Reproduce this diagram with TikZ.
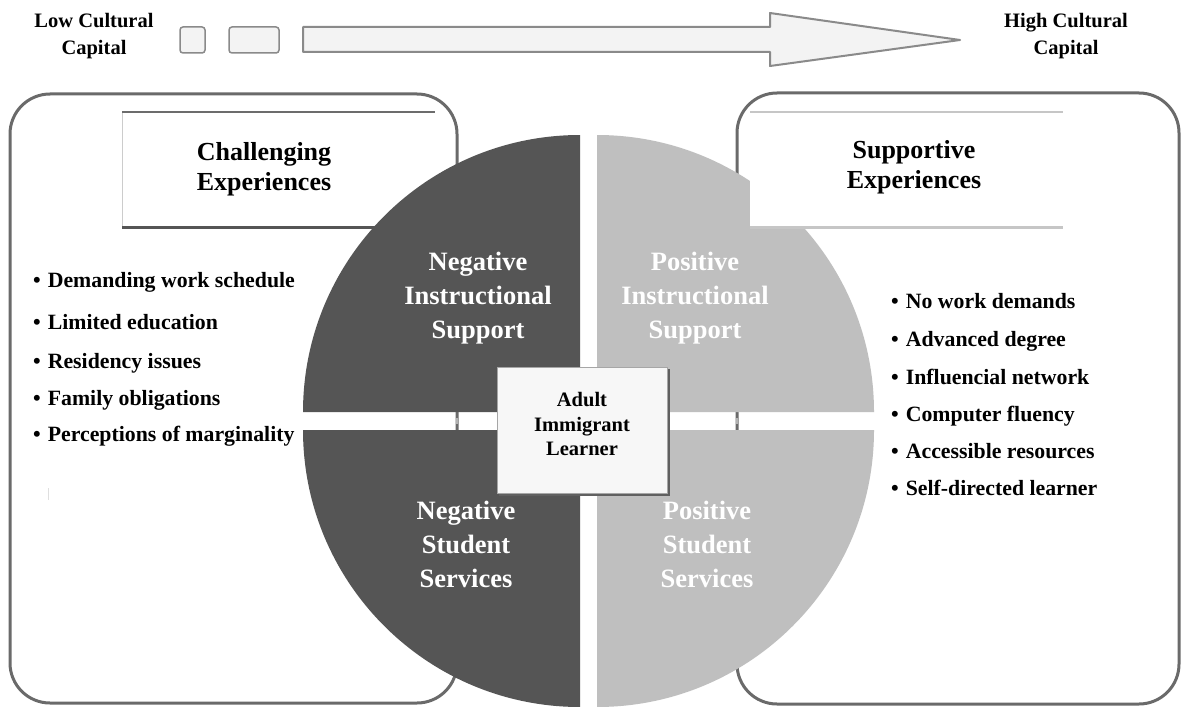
\documentclass[tikz,border=0pt]{standalone}
\usepackage{fontspec}
\setmainfont{Liberation Serif}
\definecolor{boxgray}{HTML}{6A6A6A}
\definecolor{darkq}{HTML}{555555}
\definecolor{lightq}{HTML}{BFBFBF}
\definecolor{arrowfill}{HTML}{F3F3F3}
\definecolor{arrowline}{HTML}{8A8A8A}
\begin{document}
\begin{tikzpicture}[x=1pt,y=-1pt,
  outer/.style={draw=boxgray, line width=3pt, rounded corners=40pt, fill=white},
  smallbox/.style={draw=arrowline, line width=1.5pt, rounded corners=3pt, fill=arrowfill},
  bigarrow/.style={draw=arrowline, line width=2pt, fill=arrowfill, line join=round},
  qtext/.style={text=white, font=\bfseries\fontsize{26.5}{34}\selectfont, align=center, inner sep=0pt},
  ttext/.style={text=black, font=\bfseries\fontsize{26}{30}\selectfont, align=center, inner sep=0pt},
  captext/.style={text=black, font=\bfseries\fontsize{20.5}{27}\selectfont, align=center, inner sep=0pt},
  item/.style={text=black, font=\bfseries\fontsize{21.8}{25}\selectfont, anchor=base west, inner sep=0pt},
  ctext/.style={text=black, font=\bfseries\fontsize{20.5}{24.5}\selectfont, align=center, inner sep=0pt},
  tick/.style={draw=gray!60, line width=1.5pt}]
\useasboundingbox (0,0) rectangle (1182,706);
\fill[white] (0,0) rectangle (1182,706);

% top scale
\draw[smallbox] (180,27) rectangle (205,53);
\draw[smallbox] (229,27) rectangle (279,53);
\draw[bigarrow] (303,27) -- (770,27) -- (770,13) -- (960,40) -- (770,66) -- (770,52) -- (303,52) -- cycle;
\node[captext] (low) at (94,36) {Low Cultural\\Capital};
\node[captext] (high) at (1066,36) {High Cultural\\Capital};

% outer boxes
\draw[outer] (10,94) rectangle (457,703);
\draw[outer] (737,93) rectangle (1179,704);

% left title box (behind circle)
\fill[white] (122,112) rectangle (435,227);
\draw[gray!40, line width=0.8pt] (122,112) -- (122,227);
\draw[gray!85!black, line width=2pt] (122,112) -- (435,112);
\draw[darkq, line width=3pt] (122,227) -- (435,227);

% quadrants
\fill[darkq] (580,412) -- ++(-277,0) arc[start angle=180, end angle=270, radius=277] -- cycle;
\fill[lightq] (597,412) -- ++(0,-277) arc[start angle=270, end angle=360, radius=277] -- cycle;
\fill[darkq] (580,430) -- ++(-277,0) arc[start angle=180, end angle=90, radius=277] -- cycle;
\fill[lightq] (597,430) -- ++(277,0) arc[start angle=0, end angle=90, radius=277] -- cycle;

% right title box (in front of circle)
\fill[white] (750,112) rectangle (1063,227);
\draw[gray!45, line width=2pt] (750,112) -- (1063,112);
\draw[gray!45, line width=3pt] (750,227) -- (1063,227);

% small marks
\draw[tick] (457,418) -- (457,424);
\draw[tick] (737,418) -- (737,424);
\draw[draw=gray!25, line width=1pt] (48,488) -- (48,500);

% titles
\node[ttext] (chal) at (264,169) {Challenging\\Experiences};
\node[ttext] (supp) at (914,167) {Supportive\\Experiences};

% quadrant texts
\node[qtext] (nis) at (478,298) {Negative\\Instructional\\Support};
\node[qtext] (pis) at (695,298) {Positive\\Instructional\\Support};
\node[qtext] (nss) at (466,544) {Negative\\Student\\Services};
\node[qtext] (pss) at (707,544) {Positive\\Student\\Services};

% center box
\fill[gray!75!black] (499,369) rectangle (670,496);
\node[draw=gray!70, line width=1pt, fill=gray!6, minimum width=170pt, minimum height=126pt, inner sep=0pt] (learnerbox) at (582,430) {};
\node[ctext] (learner) at (582,424) {Adult\\Immigrant\\Learner};

% left list
\node[item] (l1) at (33,287) {\textbullet\hspace{7pt}Demanding work schedule};
\node[item] (l2) at (33,329) {\textbullet\hspace{7pt}Limited education};
\node[item] (l3) at (33,368) {\textbullet\hspace{7pt}Residency issues};
\node[item] (l4) at (33,405) {\textbullet\hspace{7pt}Family obligations};
\node[item] (l5) at (33,441) {\textbullet\hspace{7pt}Perceptions of marginality};

% right list
\node[item] (r1) at (891,308) {\textbullet\hspace{7pt}No work demands};
\node[item] (r2) at (891,346) {\textbullet\hspace{7pt}Advanced degree};
\node[item] (r3) at (891,384) {\textbullet\hspace{7pt}Influencial network};
\node[item] (r4) at (891,421) {\textbullet\hspace{7pt}Computer fluency};
\node[item] (r5) at (891,458) {\textbullet\hspace{7pt}Accessible resources};
\node[item] (r6) at (891,495) {\textbullet\hspace{7pt}Self-directed learner};
\end{tikzpicture}
\end{document}
